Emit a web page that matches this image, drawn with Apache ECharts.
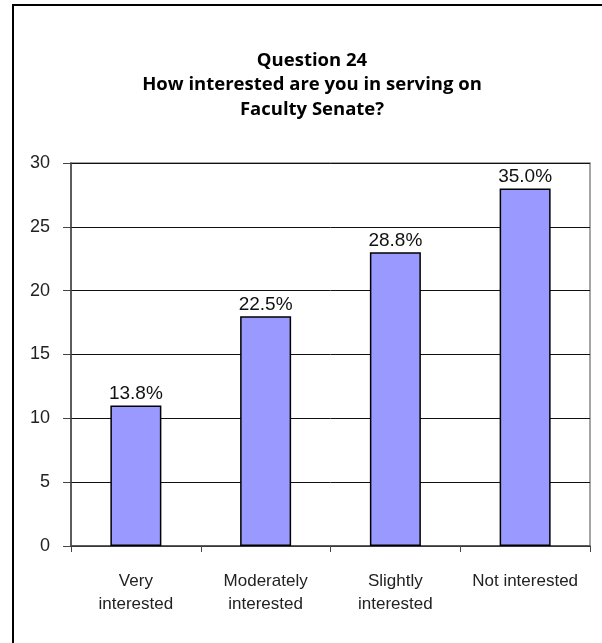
<!DOCTYPE html>
<html><head><meta charset="utf-8">
<script src="https://cdn.jsdelivr.net/npm/echarts@6/dist/echarts.min.js"></script>
<style>html,body{margin:0;padding:0;background:#fff}#c{width:602px;height:643px}</style>
</head><body><div id="c"></div>
<script>
const categories = ['Very\ninterested', 'Moderately\ninterested', 'Slightly\ninterested', 'Not interested'];
const counts = [11, 18, 23, 28];
const percentLabels = ['13.8%', '22.5%', '28.8%', '35.0%'];
const titleLines = ['Question 24', 'How interested are you in serving on', 'Faculty Senate?'];

const chart = echarts.init(document.getElementById('c'));
chart.setOption({
  animation: false,
  backgroundColor: '#fff',
  graphic: [{
    type: 'rect', shape: {x: 13, y: 5, width: 700, height: 700},
    style: {fill: 'none', stroke: '#000', lineWidth: 2}, silent: true, z: -1
  }],
  title: {
    text: titleLines.join('\n'),
    left: 307, textAlign: 'center', top: 43,
    textStyle: {fontFamily: 'Open Sans', fontWeight: 'bold', fontSize: 18.5, lineHeight: 24.5, color: '#000'}
  },
  grid: {left: 71, right: 12, top: 163, bottom: 97, show: true, borderColor: '#888', borderWidth: 1.5, backgroundColor: '#fff'},
  xAxis: {
    type: 'category', data: categories,
    axisLine: {lineStyle: {color: '#444', width: 1.5}},
    axisTick: {show: true, length: 6, lineStyle: {color: '#444'}},
    axisLabel: {color: '#222', fontFamily: 'Liberation Sans', fontSize: 17, lineHeight: 23, margin: 24, interval: 0}
  },
  yAxis: {
    type: 'value', min: 0, max: 30, interval: 5,
    axisLine: {show: true, lineStyle: {color: '#444', width: 1.5}},
    axisTick: {show: true, length: 8, lineStyle: {color: '#444'}},
    axisLabel: {color: '#222', fontFamily: 'Liberation Sans', fontSize: 18, margin: 21},
    splitLine: {lineStyle: {color: '#111', width: 1}}
  },
  series: [{
    type: 'bar', data: counts, barWidth: 51,
    itemStyle: {color: '#9999FF', borderColor: '#000', borderWidth: 1.5},
    label: {show: true, position: 'top', distance: 2, color: '#111', fontFamily: 'Liberation Sans', fontSize: 19,
      formatter: p => percentLabels[p.dataIndex]}
  }]
});
</script></body></html>
